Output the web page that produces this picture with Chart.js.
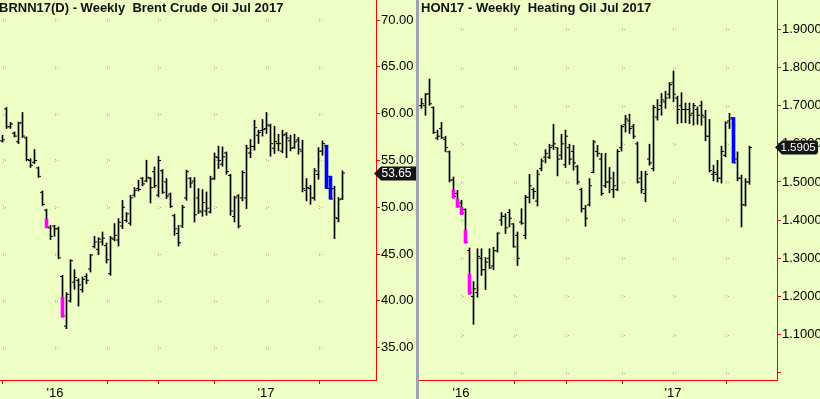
<!DOCTYPE html>
<html>
<head>
<meta charset="utf-8">
<script src="https://cdn.jsdelivr.net/npm/chart.js@4.4.0/dist/chart.umd.min.js"></script>
<style>
    body { margin: 0; width: 820px; height: 399px; overflow: hidden; position: relative; background: #eeffc6; }
    #brent-chart { position: absolute; left: 0; top: 0; }
    #ho-chart { position: absolute; left: 419px; top: 0; }
    .separator { position: absolute; left: 416px; top: 0; width: 3px; height: 399px; background: #9ea3ad; }
    .title { position: absolute; top: 0px; font: bold 13px "Liberation Sans", Arial, sans-serif; color: #111; white-space: pre; }
</style>
</head>
<body>
<canvas id="brent-chart" width="416" height="399"></canvas>
<div class="separator"></div>
<canvas id="ho-chart" width="401" height="399"></canvas>
<div class="title" style="left:-1px">BRNN17(D) - Weekly  Brent Crude Oil Jul 2017</div>
<div class="title" style="left:421px">HON17 - Weekly  Heating Oil Jul 2017</div>

<script>
// ---- Brent (weekly bars, oldest first) ----
const brent_high = [57.7, 60.66, 59.06, 58.05, 59.1, 60.13, 57.52, 55.2, 56.17, 54.31,
    51.74, 49.8, 48.07, 48.07, 47.9, 42.73, 40.88, 44.4, 43.33, 42.37,
    42.55, 42.9, 44.97, 46.9, 46.76, 47.36, 46.18, 46.9, 48.26, 48.79,
    50.75, 49.43, 51.28, 52.1, 52.89, 53.18, 55.03, 53.18, 54.31, 55.45,
    54.03, 53.07, 51.53, 49.25, 48.07, 50.21, 53.96, 53.18, 53.18, 52.0,
    51.89, 51.64, 53.32, 55.81, 56.52, 56.45, 55.91, 53.53, 51.18, 51.36,
    53.89, 56.63, 57.24, 59.3, 58.24, 59.38, 60.13, 58.88, 58.66, 57.8,
    58.24, 57.99, 57.7, 57.8, 57.45, 57.17, 53.07, 52.35, 54.14, 56.38,
    57.1, 56.63, 53.32, 52.25, 51.04, 53.89];
const brent_low = [56.95, 58.42, 58.42, 57.52, 56.8, 57.45, 54.95, 54.25, 54.67, 53.18,
    50.18, 47.8, 46.55, 46.9, 44.5, 38.27, 37.03, 39.87, 41.23, 39.44,
    40.94, 41.84, 43.08, 45.65, 44.94, 45.94, 44.04, 42.73, 46.4, 45.86,
    47.72, 48.43, 48.07, 51.1, 51.74, 52.28, 52.71, 50.46, 52.1, 51.1,
    51.47, 50.93, 49.97, 47.0, 45.86, 47.83, 50.75, 52.1, 48.43, 49.33,
    49.04, 49.14, 49.39, 52.96, 54.14, 54.39, 53.53, 49.14, 48.43, 47.79,
    50.68, 49.86, 55.3, 56.1, 56.81, 57.6, 57.88, 55.45, 55.74, 56.02,
    55.81, 55.3, 56.02, 56.27, 55.67, 51.64, 50.68, 50.32, 50.75, 52.99,
    55.56, 52.0, 50.86, 46.65, 48.43, 50.82];
const brent_open = [57.1, 60.5, 58.6, 57.9, 57.0, 59.0, 57.4, 55.0, 54.8, 54.2,
    51.6, 49.7, 47.8, 48.0, 47.7, 42.6, 37.3, 40.0, 42.0, 42.2,
    41.2, 42.6, 43.4, 45.8, 45.5, 46.3, 45.9, 42.9, 46.6, 46.5,
    48.0, 48.6, 48.3, 51.3, 52.0, 53.1, 52.8, 53.1, 53.8, 51.3,
    53.9, 52.7, 51.4, 49.1, 47.2, 48.0, 51.0, 53.1, 52.8, 51.0,
    49.5, 49.6, 49.5, 53.1, 55.3, 54.6, 55.8, 53.4, 49.0, 51.2,
    51.0, 51.0, 55.8, 56.5, 57.7, 58.2, 58.4, 58.7, 56.3, 56.8,
    56.0, 57.8, 57.1, 56.4, 57.2, 56.0, 51.8, 52.0, 51.0, 53.5,
    56.0, 56.6, 53.3, 52.0, 48.8, 50.9];
const brent_close = [57.2, 58.6, 58.9, 57.6, 59.0, 57.6, 55.1, 54.5, 55.0, 53.3,
    50.3, 47.9, 46.9, 47.7, 44.6, 38.4, 40.7, 44.3, 42.5, 41.7,
    42.3, 42.2, 44.9, 46.3, 46.6, 46.7, 44.4, 46.7, 47.0, 48.4,
    50.0, 49.3, 51.0, 51.8, 51.9, 52.5, 53.2, 52.1, 52.3, 55.0,
    51.6, 51.2, 50.1, 47.7, 46.2, 50.0, 53.8, 52.6, 49.2, 49.6,
    50.5, 49.9, 53.0, 55.4, 55.0, 55.4, 53.8, 49.6, 51.0, 48.0,
    53.7, 56.3, 56.5, 58.5, 58.0, 58.3, 58.8, 56.8, 57.0, 56.8,
    57.7, 57.4, 56.3, 57.0, 56.2, 52.0, 52.1, 51.0, 53.9, 56.0,
    56.8, 52.0, 50.9, 48.9, 50.8, 53.65];
// highlighted (coloured) bar sections
const brent_mark_index = [11, 15, 81, 82];
const brent_mark_low = [47.8, 38.27, 52.0, 50.86];
const brent_mark_high = [48.7, 40.4, 56.63, 53.32];
const brent_mark_kind = ["magenta", "magenta", "blue", "blue"];
const brent_y_ticks = [35, 40, 45, 50, 55, 60, 65, 70];
const brent_y_labels = ["35.00", "40.00", "45.00", "50.00", "55.00", "60.00", "65.00", "70.00"];
const brent_x_ticks = [0.125, 13.125, 26.125, 38.875, 52.875, 65.875, 79.125];   // in weeks from first bar
const brent_x_labels = ["", "'16", "", "", "", "'17", ""];
const brent_last = 53.65;

// ---- Heating oil ----
const ho_high = [1.719, 1.732, 1.770, 1.697, 1.636, 1.656, 1.620, 1.581, 1.513, 1.478,
    1.452, 1.430, 1.327, 1.239, 1.325, 1.325, 1.302, 1.325, 1.329, 1.367,
    1.420, 1.417, 1.428, 1.391, 1.369, 1.430, 1.465, 1.520, 1.484, 1.531,
    1.561, 1.585, 1.599, 1.651, 1.590, 1.625, 1.636, 1.599, 1.596, 1.544,
    1.484, 1.439, 1.509, 1.609, 1.596, 1.575, 1.575, 1.538, 1.526, 1.585,
    1.649, 1.675, 1.678, 1.651, 1.605, 1.528, 1.528, 1.599, 1.701, 1.716,
    1.732, 1.738, 1.761, 1.791, 1.725, 1.734, 1.707, 1.707, 1.706, 1.697,
    1.712, 1.688, 1.664, 1.544, 1.557, 1.594, 1.658, 1.680, 1.669, 1.579,
    1.518, 1.509, 1.594];
const ho_low = [1.693, 1.675, 1.701, 1.627, 1.611, 1.614, 1.579, 1.500, 1.458, 1.434,
    1.415, 1.340, 1.206, 1.127, 1.198, 1.255, 1.218, 1.273, 1.270, 1.316,
    1.386, 1.365, 1.382, 1.329, 1.281, 1.389, 1.351, 1.445, 1.456, 1.437,
    1.529, 1.550, 1.561, 1.585, 1.516, 1.559, 1.538, 1.546, 1.531, 1.494,
    1.421, 1.384, 1.437, 1.524, 1.567, 1.465, 1.485, 1.472, 1.459, 1.477,
    1.581, 1.631, 1.627, 1.614, 1.497, 1.471, 1.448, 1.544, 1.529, 1.662,
    1.675, 1.693, 1.719, 1.710, 1.653, 1.655, 1.655, 1.653, 1.649, 1.651,
    1.649, 1.608, 1.526, 1.503, 1.500, 1.497, 1.566, 1.640, 1.550, 1.503,
    1.382, 1.437, 1.494];
const ho_open = [1.700, 1.700, 1.731, 1.695, 1.615, 1.640, 1.612, 1.579, 1.505, 1.470,
    1.445, 1.428, 1.320, 1.200, 1.210, 1.300, 1.270, 1.300, 1.280, 1.320,
    1.400, 1.410, 1.420, 1.390, 1.360, 1.395, 1.360, 1.460, 1.480, 1.450,
    1.535, 1.565, 1.565, 1.595, 1.590, 1.570, 1.545, 1.590, 1.580, 1.540,
    1.480, 1.430, 1.440, 1.525, 1.580, 1.560, 1.490, 1.500, 1.480, 1.480,
    1.590, 1.650, 1.660, 1.645, 1.600, 1.510, 1.470, 1.560, 1.535, 1.670,
    1.700, 1.710, 1.730, 1.760, 1.720, 1.700, 1.690, 1.690, 1.680, 1.690,
    1.700, 1.670, 1.620, 1.520, 1.520, 1.510, 1.570, 1.660, 1.669, 1.560,
    1.510, 1.440, 1.500];
const ho_close = [1.705, 1.730, 1.705, 1.630, 1.620, 1.616, 1.590, 1.505, 1.462, 1.436,
    1.418, 1.342, 1.210, 1.220, 1.305, 1.270, 1.290, 1.275, 1.320, 1.366,
    1.410, 1.380, 1.405, 1.330, 1.300, 1.392, 1.460, 1.490, 1.475, 1.520,
    1.555, 1.575, 1.590, 1.600, 1.560, 1.600, 1.620, 1.560, 1.550, 1.500,
    1.430, 1.405, 1.490, 1.605, 1.575, 1.470, 1.500, 1.510, 1.490, 1.580,
    1.645, 1.665, 1.640, 1.620, 1.500, 1.480, 1.520, 1.550, 1.695, 1.690,
    1.715, 1.720, 1.755, 1.730, 1.690, 1.690, 1.690, 1.675, 1.700, 1.675,
    1.675, 1.620, 1.530, 1.525, 1.510, 1.580, 1.655, 1.665, 1.550, 1.510,
    1.440, 1.500, 1.5905];
const ho_mark_index = [8, 9, 10, 11, 12, 78];
const ho_mark_low = [1.458, 1.434, 1.415, 1.340, 1.206, 1.550];
const ho_mark_high = [1.479, 1.455, 1.434, 1.373, 1.258, 1.669];
const ho_mark_kind = ["magenta", "magenta", "magenta", "magenta", "magenta", "blue"];
const ho_y_ticks = [1.0, 1.1, 1.2, 1.3, 1.4, 1.5, 1.6, 1.7, 1.8, 1.9];
const ho_y_labels = ["", "1.1000", "1.2000", "1.3000", "1.4000", "1.5000", "1.6000", "1.7000", "1.8000", "1.9000"];
const ho_x_ticks = [9.875, 23.125, 36.125, 50.125, 62.875, 76.125];
const ho_x_labels = ["'16", "", "", "", "'17", ""];
const ho_last = 1.5905;

const mark_colours = { magenta: "#ff00ff", blue: "#0000ff" };
const axis_red = "#ff0000";
const label_font = { family: '"Liberation Sans", Arial, sans-serif', size: 13 };

// small dotted marks where the x and y ticks cross
const dot_grid = {
    id: "dot_grid",
    beforeDatasetsDraw(chart) {
        const { ctx, scales } = chart;
        ctx.save();
        ctx.fillStyle = "#aab39c";
        for (const xt of scales.x.ticks) {
            const px = Math.round(scales.x.getPixelForValue(xt.value));
            for (const yt of scales.y.ticks) {
                const py = Math.round(scales.y.getPixelForValue(yt.value));
                ctx.fillRect(px, py - 1, 1, 1);
                ctx.fillRect(px, py + 1, 1, 1);
                ctx.fillRect(px + 2, py, 1, 1);
            }
        }
        ctx.restore();
    }
};

// black last-price tag on the price axis
const price_tag = {
    id: "price_tag",
    afterDraw(chart, args, opts) {
        const { ctx, chartArea, scales } = chart;
        const y = Math.round(scales.y.getPixelForValue(opts.value)) + 0.5;
        const x = chartArea.right;
        const w = opts.width;
        ctx.save();
        ctx.fillStyle = "#141414";
        ctx.beginPath();
        ctx.moveTo(x - 2, y);
        ctx.lineTo(x + 5, y - 7);
        ctx.lineTo(x + w - 3, y - 7);
        ctx.quadraticCurveTo(x + w, y - 7, x + w, y - 4);
        ctx.lineTo(x + w, y + 4);
        ctx.quadraticCurveTo(x + w, y + 7, x + w - 3, y + 7);
        ctx.lineTo(x + 5, y + 7);
        ctx.closePath();
        ctx.fill();
        ctx.fillStyle = "#ffffff";
        ctx.font = opts.font;
        ctx.textBaseline = "middle";
        ctx.fillText(opts.text, x + opts.text_x, y + 0.5);
        ctx.restore();
    }
};

function createBarChart({canvas_id, highs, lows, opens, closes, mark_index, mark_low, mark_high, mark_kind,
                         x_ticks, x_labels, x_max, y_ticks, y_labels, y_min, y_max, axis_width,
                         last, last_text, tag_width, tag_text_x, tag_font}) {

    const range_data = highs.map((h, i) => ({ x: i, y: [lows[i], h] }));
    const open_data = opens.map((o, i) => ({ x: i - 0.375, y: o }));    // left tick
    const close_data = closes.map((c, i) => ({ x: i + 0.375, y: c }));  // right tick
    const mark_data = mark_index.map((idx, k) => ({ x: idx, y: [mark_low[k], mark_high[k]] }));

    const tick_points = {
        type: "line",
        showLine: false,
        pointStyle: "line",
        pointRadius: 1,
        pointBorderWidth: 1,
        pointBorderColor: "#000",
        order: 1
    };

    const config = {
        type: "bar",
        data: {
            datasets: [
                { data: mark_data, backgroundColor: (c) => mark_colours[mark_kind[c.dataIndex]],
                  barThickness: 3, grouped: false, borderWidth: 0, order: 0 },
                Object.assign({ data: open_data }, tick_points),
                Object.assign({ data: close_data }, tick_points),
                { data: range_data, backgroundColor: "#000", barThickness: 1, grouped: false, borderWidth: 0, order: 2 }
            ]
        },
        options: {
            responsive: false,
            animation: false,
            events: [],
            layout: { padding: 0, autoPadding: false },   // keep the plot flush with the canvas edges
            plugins: {
                legend: { display: false },
                tooltip: { enabled: false },
                price_tag: { value: last, text: last_text, width: tag_width, text_x: tag_text_x, font: tag_font }
            },
            scales: {
                x: {
                    type: "linear",
                    min: -0.625,
                    max: x_max,
                    offset: false,
                    border: { color: axis_red, width: 1 },
                    grid: {
                        offset: false,
                        drawOnChartArea: false,
                        tickLength: 4,
                        tickColor: (c) => x_labels[c.index] ? "rgba(0,0,0,0)" : axis_red
                    },
                    afterBuildTicks: (scale) => { scale.ticks = x_ticks.map(v => ({ value: v })); },
                    afterFit: (scale) => { scale.height = 19; scale.paddingLeft = 0; scale.paddingRight = 0; },
                    ticks: {
                        autoSkip: false,
                        maxRotation: 0,
                        padding: 2,
                        color: "#000",
                        font: label_font,
                        callback: (value, index) => x_labels[index]
                    }
                },
                y: {
                    position: "right",
                    min: y_min,
                    max: y_max,
                    border: { color: axis_red, width: 1 },
                    grid: { drawOnChartArea: false, tickLength: 4, tickColor: axis_red },
                    afterBuildTicks: (scale) => { scale.ticks = y_ticks.map(v => ({ value: v })); },
                    afterFit: (scale) => { scale.width = axis_width; scale.paddingTop = 0; scale.paddingBottom = 0; },
                    ticks: {
                        padding: 1,
                        color: "#000",
                        font: label_font,
                        callback: (value, index) => y_labels[index]
                    }
                }
            }
        },
        plugins: [dot_grid, price_tag]
    };

    return new Chart(document.getElementById(canvas_id).getContext("2d"), config);
}

createBarChart({
    canvas_id: "brent-chart",
    highs: brent_high, lows: brent_low, opens: brent_open, closes: brent_close,
    mark_index: brent_mark_index, mark_low: brent_mark_low, mark_high: brent_mark_high, mark_kind: brent_mark_kind,
    x_ticks: brent_x_ticks, x_labels: brent_x_labels, x_max: 93.375,
    y_ticks: brent_y_ticks, y_labels: brent_y_labels, y_min: 31.55, y_max: 72.14,
    axis_width: 40, last: brent_last, last_text: "53.65", tag_width: 42, tag_text_x: 5.5,
    tag_font: '12px "Liberation Sans", Arial, sans-serif'
});

createBarChart({
    canvas_id: "ho-chart",
    highs: ho_high, lows: ho_low, opens: ho_open, closes: ho_close,
    mark_index: ho_mark_index, mark_low: ho_mark_low, mark_high: ho_mark_high, mark_kind: ho_mark_kind,
    x_ticks: ho_x_ticks, x_labels: ho_x_labels, x_max: 88.875,
    y_ticks: ho_y_ticks, y_labels: ho_y_labels, y_min: 0.981, y_max: 1.977,
    axis_width: 43, last: ho_last, last_text: "1.5905", tag_width: 41, tag_text_x: 3.5,
    tag_font: '11.5px "Liberation Sans", Arial, sans-serif'
});
</script>
</body>
</html>
